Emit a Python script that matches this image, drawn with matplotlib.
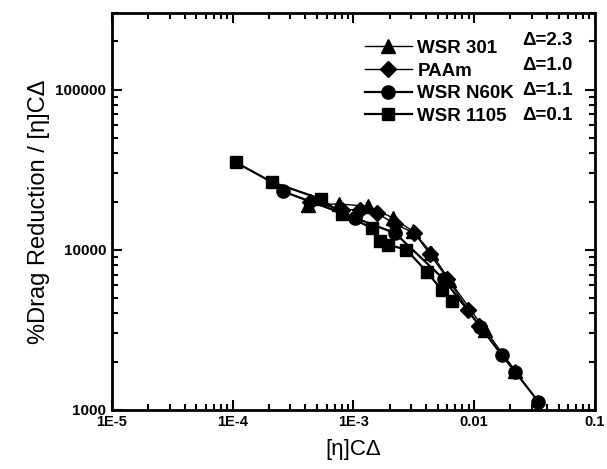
import matplotlib
matplotlib.use("Agg")
import matplotlib.pyplot as plt
from matplotlib.ticker import LogLocator, NullFormatter, FixedLocator, FixedFormatter

plt.rcParams['font.family'] = ['Liberation Sans', 'DejaVu Sans']

# WSR 301 (triangles), delta = 2.3
wsr301_x = [4.2e-4, 7.6e-4, 1.33e-3, 2.14e-3, 3.13e-3, 4.4e-3, 6.2e-3, 1.23e-2, 2.2e-2]
wsr301_y = [19100, 19300, 18660, 15780, 13000, 9600, 6500, 3160, 1750]

# PAAm (diamonds), delta = 1.0
paam_x = [4.4e-4, 8.0e-4, 1.13e-3, 1.56e-3, 2.2e-3, 3.2e-3, 4.3e-3, 6.0e-3, 8.9e-3, 1.1e-2]
paam_y = [20000, 17800, 17800, 16960, 14500, 12700, 9400, 6600, 4220, 3350]

# WSR N60K (circles), delta = 1.1
n60k_x = [2.62e-4, 1.03e-3, 2.21e-3, 5.6e-3, 1.12e-2, 1.69e-2, 2.2e-2, 3.4e-2]
n60k_y = [23100, 15800, 12700, 6550, 3316, 2206, 1720, 1127]

# WSR 1105 (squares), delta = 0.1
wsr1105_x = [1.06e-4, 2.1e-4, 5.4e-4, 8.0e-4, 1.42e-3, 1.66e-3, 1.94e-3, 2.75e-3, 4.04e-3, 5.4e-3, 6.6e-3]
wsr1105_y = [35100, 26500, 20700, 16800, 13670, 11270, 10740, 10000, 7300, 5600, 4800]

series_names = ['WSR 301', 'PAAm', 'WSR N60K', 'WSR 1105']
deltas = ['\u0394=2.3', '\u0394=1.0', '\u0394=1.1', '\u0394=0.1']

x_ticks = [1e-5, 1e-4, 1e-3, 1e-2, 1e-1]
x_labels = ['1E-5', '1E-4', '1E-3', '0.01', '0.1']
y_ticks = [1000, 10000, 100000]
y_labels = ['1000', '10000', '100000']

fig = plt.figure(figsize=(6.07, 4.69), dpi=100)
ax = fig.add_axes([0.1845, 0.126, 0.7955, 0.846])

ax.plot(wsr301_x, wsr301_y, '-', color='black', lw=1.0, marker='^', ms=9.5, label=series_names[0])
ax.plot(paam_x, paam_y, '-', color='black', lw=1.0, marker='D', ms=8, label=series_names[1])
ax.plot(n60k_x, n60k_y, '-', color='black', lw=1.6, marker='o', ms=9.5, label=series_names[2])
ax.plot(wsr1105_x, wsr1105_y, '-', color='black', lw=1.6, marker='s', ms=9, label=series_names[3])

ax.set_xscale('log')
ax.set_yscale('log')
ax.set_xlim(1e-5, 1e-1)
ax.set_ylim(1000, 300000)

ax.xaxis.set_major_locator(FixedLocator(x_ticks))
ax.xaxis.set_major_formatter(FixedFormatter(x_labels))
ax.yaxis.set_major_locator(FixedLocator(y_ticks))
ax.yaxis.set_major_formatter(FixedFormatter(y_labels))
ax.xaxis.set_minor_locator(LogLocator(base=10, subs=range(2, 10), numticks=20))
ax.yaxis.set_minor_locator(LogLocator(base=10, subs=range(2, 10), numticks=20))
ax.xaxis.set_minor_formatter(NullFormatter())
ax.yaxis.set_minor_formatter(NullFormatter())

ax.tick_params(which='both', direction='in', top=True, right=True, width=1.5)
ax.tick_params(which='major', length=7, pad=4)
ax.tick_params(axis='x', which='major', labelsize=10.5)
ax.tick_params(axis='y', which='major', labelsize=11)
ax.tick_params(which='minor', length=4)
for lbl in ax.get_xticklabels() + ax.get_yticklabels():
    lbl.set_fontweight('bold')
for sp in ax.spines.values():
    sp.set_linewidth(2)

ax.set_xlabel('[\u03b7]C\u0394', fontsize=16, labelpad=7)
ax.set_ylabel('%Drag Reduction / [\u03b7]C\u0394', fontsize=17, labelpad=4)

leg = ax.legend(loc='upper left', bbox_to_anchor=(0.508, 0.952), frameon=False,
                prop={'weight': 'bold', 'size': 13.5}, handlelength=2.5,
                handletextpad=0.3, labelspacing=0.3, borderaxespad=0)

for i, d in enumerate(deltas):
    ax.text(0.85, 0.93 - i * 0.0625, d, transform=ax.transAxes,
            fontsize=13.5, fontweight='bold', va='center', ha='left')

fig.savefig('out.png', dpi=100)
